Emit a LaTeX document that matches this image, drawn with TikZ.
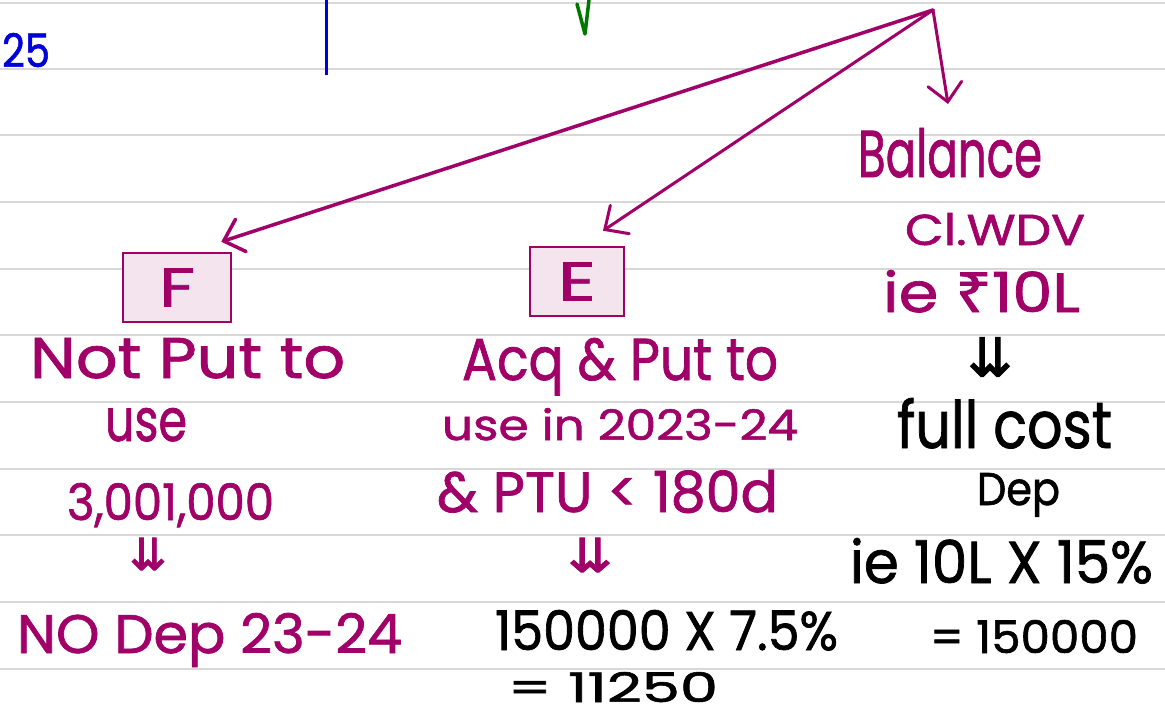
\documentclass[tikz,border=0pt]{standalone}
\usepackage{fontspec}
\usepackage{graphicx}
\setmainfont{Poppins}[FakeBold=1.3]
\newfontfamily\symfont{DejaVu Sans}[FakeBold=2]
\newfontfamily\rupfont{Noto Sans}[FakeBold=1.3]
\usetikzlibrary{arrows.meta,calc}
\definecolor{mag}{RGB}{160,0,104}
\definecolor{boxfill}{RGB}{243,228,238}
\definecolor{ruleclr}{RGB}{216,216,216}
\definecolor{bluepen}{RGB}{0,0,220}
\definecolor{greenpen}{RGB}{0,120,0}
\newcommand{\hw}[3]{\resizebox{#1}{#2}{#3}}
\begin{document}
\begin{tikzpicture}[x=1pt,y=-1pt,
  txt/.style={anchor=base west, inner sep=0pt, outer sep=0pt},
  magtxt/.style={txt, text=mag},
  blktxt/.style={txt, text=black},
  ruleline/.style={draw=ruleclr, line width=1.5pt},
  cbox/.style={draw=mag, fill=boxfill, line width=2.5pt, inner sep=0pt, text=mag},
  arr/.style={draw=mag, line width=3pt, line cap=round, -{Straight Barb[length=18pt,width=34pt,line cap=round]}},
  dbl/.style={inner sep=0pt, anchor=center},
]
\useasboundingbox (0,0) rectangle (1165,715);
\fill[white] (0,0) rectangle (1165,715);
\foreach \y in {3,69,135,202,269,335,402,469,535,602,669} \draw[ruleline] (0,\y) -- (1165,\y);

% top marks
\node[txt, text=bluepen] (n25) at (2,67) {\hw{48pt}{34pt}{25}};
\draw[bluepen, line width=3pt] (326,0) -- (326,75);
\draw[greenpen, line width=3.5pt, line cap=round, line join=round] (577,4) -- (585,34) -- (589,0);

% source and boxes
\coordinate (src) at (933,10);
\node[cbox, minimum width=108pt, minimum height=69pt] (F) at (177,287.5) {\hw{36pt}{38pt}{F}};
\node[cbox, minimum width=94pt, minimum height=69pt] (E) at (577,281.5) {\hw{38pt}{38pt}{E}};

% left column
\node[magtxt] (f1) at (30,378) {\hw{315pt}{40pt}{Not Put to}};
\node[magtxt] (f2) at (105,441) {\hw{82pt}{33pt}{use}};
\node[magtxt] (f3) at (67,520) {\hw{207pt}{37pt}{3,001,000}};
\node[dbl, text=mag] (f4) at (148,554) {\hw{37pt}{32pt}{\symfont ⇊}};
\node[magtxt] (f5) at (17,653) {\hw{385pt}{40pt}{NO Dep 23-24}};

% middle column
\node[magtxt] (e1) at (462,380) {\hw{316pt}{42pt}{Acq \& Put to}};
\node[magtxt] (e2) at (442,440) {\hw{356pt}{32pt}{use in 2023-24}};
\node[magtxt] (e3) at (437,512) {\hw{341pt}{42pt}{\& PTU < 180d}};
\node[dbl, text=mag] (e4) at (590,555) {\hw{45pt}{34pt}{\symfont ⇊}};
\node[blktxt] (e5) at (495,650) {\hw{343pt}{40pt}{150000 X 7.5\%}};
\node[blktxt] (e6) at (508,702) {\hw{210pt}{30pt}{= 11250}};

% right column
\node[magtxt] (bal) at (858,177) {\hw{184pt}{49pt}{Balance}};
\node[magtxt] (r2) at (905,245) {\hw{180pt}{32pt}{Cl.WDV}};
\node[magtxt] (r3) at (883,312) {\hw{197pt}{42pt}{ie {\rupfont ₹}10L}};
\node[dbl, text=black] (r4) at (990,357) {\hw{45pt}{39pt}{\symfont ⇊}};
\node[blktxt] (r5) at (897,448) {\hw{215pt}{50pt}{full cost}};
\node[blktxt] (r6) at (977,505) {\hw{83pt}{32pt}{Dep}};
\node[blktxt] (r7) at (850,583) {\hw{303pt}{45pt}{ie 10L X 15\%}};
\node[blktxt] (r8) at (930,653) {\hw{208pt}{33pt}{= 150000}};

% arrows
\draw[arr, line width=3.5pt] (src) -- ($(F.north east)+(-11,-10)$);
\draw[arr] (src) -- ($(E.north)+(26,-15)$);
\draw[arr] (src) -- ($(bal.north)+(-2,-24)$);
\end{tikzpicture}
\end{document}
